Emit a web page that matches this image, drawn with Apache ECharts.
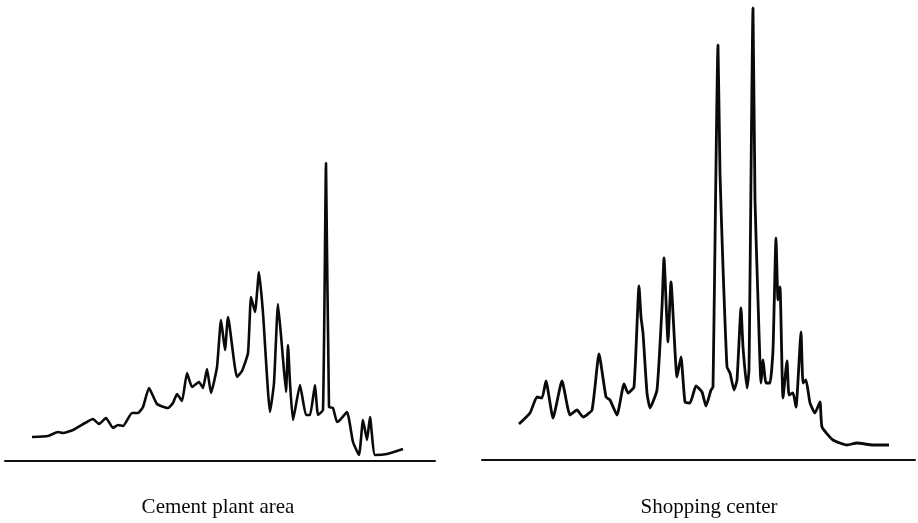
<!DOCTYPE html>
<html>
<head>
<meta charset="utf-8">
<script src="https://cdn.jsdelivr.net/npm/echarts@6/dist/echarts.min.js"></script>
<style>
html,body{margin:0;padding:0;background:#fff;}
#chart{width:918px;height:523px;}
</style>
</head>
<body>
<div id="chart"></div>
<script>
// Panel titles
var panelTitles = ["Cement plant area", "Shopping center"];

// Cement plant area: retention time (arbitrary units) and detector response
var cementTime = [2.7,4.3,5.3,5.8,6.8,8.0,8.8,9.4,10.1,10.8,11.3,11.8,12.7,13.3,13.8,14.4,15.2,16.3,16.8,17.2,17.7,18.2,18.7,19.4,19.8,20.2,20.6,21.2,21.6,22.0,22.3,23.2,23.7,24.3,24.6,25.0,25.4,25.8,26.5,26.9,27.3,27.7,28.1,28.3,28.5,28.8,29.5,30.1,30.5,31.0,31.3,31.8,32.1,32.4,32.8,33.2,33.5,34.2,34.8,35.4,35.8,36.2,36.5,37.0,38.2,39.8];
var cementResp = [6,6.25,7.25,7,7.75,9.5,10.5,9.25,10.75,8.25,9,8.75,12,12,13.5,18.25,14.25,13.25,14.5,16.75,15,22,18.5,19.75,18.25,23,17,23.5,35.25,27.75,36,21,22.5,27,41,37.25,47.25,37,12.25,19.5,39.25,28.5,17.25,29,19.5,10.25,19,11.5,11.5,19,11.5,12.75,74.5,13.5,13.25,9.75,10.25,12.25,4.75,1.5,10.25,5.25,11,1.5,1.75,3];

// Shopping center: retention time and detector response
var shopTime = [3.7,4.8,5.5,6.0,6.4,7.1,8.0,8.8,9.5,10.1,11.0,11.7,12.4,12.8,13.5,14.2,14.6,15.2,15.7,15.9,16.1,16.5,16.8,17.5,18.0,18.2,18.6,18.9,19.5,19.9,20.3,20.8,21.4,22.0,22.4,22.9,23.1,23.6,23.8,24.1,24.5,24.8,25.2,25.5,25.9,26.1,26.5,26.7,27.1,27.3,27.6,27.9,28.1,28.4,28.8,29.1,29.4,29.6,29.8,30.1,30.5,30.7,31.1,31.4,31.9,32.1,32.4,32.8,33.3,33.8,34.0,35.1,36.5,37.5,39.1,40.7];
var shopResp = [9,11.75,15.75,15.5,19.75,10.5,19.75,11.25,12.5,10.75,12.5,26.5,15.75,15,11.25,19,16.75,18.25,43.5,35.75,31.75,16.75,13,17.5,38.25,50.5,29.5,44.5,20.75,25.75,14.5,14.25,18.5,17,13.5,17.5,18.25,103.75,71.75,48.25,23.25,21.75,17.5,20,38,28.25,18,22.5,113,65,40,19.25,25,19.25,19.25,27.5,55.5,40,43.25,15.5,24.75,16.25,16.75,13.25,32,19.25,20,14.25,11.75,14.5,8.25,5,3.75,4.25,3.75,3.75];

function pairs(xs, ys){ return xs.map(function(x,i){ return [x, ys[i]]; }); }

var chart = echarts.init(document.getElementById('chart'), null, {renderer:'canvas'});

function xAxisDef(idx, max){
  return {
    type:'value', gridIndex:idx, min:0, max:max,
    axisLine:{show:true, onZero:false, lineStyle:{color:'#111', width:2}},
    axisTick:{show:false}, axisLabel:{show:false}, splitLine:{show:false}
  };
}
function yAxisDef(idx){
  return {
    type:'value', gridIndex:idx, min:0, max:115,
    axisLine:{show:false}, axisTick:{show:false}, axisLabel:{show:false}, splitLine:{show:false}
  };
}

chart.setOption({
  animation:false,
  backgroundColor:'#fff',
  grid:[
    {left:5, width:430, top:1, height:460},
    {left:482, width:433, top:0, height:460}
  ],
  xAxis:[xAxisDef(0, 43), xAxisDef(1, 43.3)],
  yAxis:[yAxisDef(0), yAxisDef(1)],
  series:[
    {type:'line', xAxisIndex:0, yAxisIndex:0, data:pairs(cementTime, cementResp),
     showSymbol:false, smooth:0.15, lineStyle:{color:'#0a0a0a', width:2.6}},
    {type:'line', xAxisIndex:1, yAxisIndex:1, data:pairs(shopTime, shopResp),
     showSymbol:false, smooth:0.15, lineStyle:{color:'#0a0a0a', width:2.8}}
  ],
  graphic:[
    {type:'text', x:218, y:507, style:{text:panelTitles[0], fill:'#0a0a0a', font:'21px "Liberation Serif", serif', textAlign:'center', textVerticalAlign:'middle'}},
    {type:'text', x:709, y:507, style:{text:panelTitles[1], fill:'#0a0a0a', font:'21px "Liberation Serif", serif', textAlign:'center', textVerticalAlign:'middle'}}
  ]
});
</script>
</body>
</html>
